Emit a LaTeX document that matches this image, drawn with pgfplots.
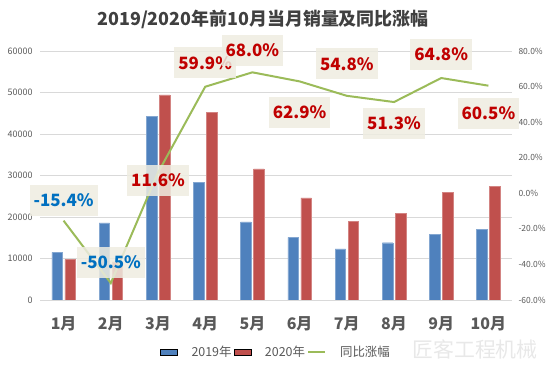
\documentclass[border=0pt]{standalone}
\usepackage{pgfplots}
\pgfplotsset{compat=1.18}
\usepackage{pgfplotstable}
\usepackage{fontspec}
\setmainfont{Noto Sans CJK SC}
\definecolor{c19}{HTML}{4F81BD}
\definecolor{c20}{HTML}{C0504D}
\definecolor{cl}{HTML}{9BBB59}
\definecolor{tx}{HTML}{595959}
\definecolor{ttl}{HTML}{404040}
\definecolor{gridc}{HTML}{D9D9D9}
\definecolor{lbl}{HTML}{EEECE1}
\definecolor{pos}{HTML}{C00000}
\definecolor{neg}{HTML}{0070C0}
\pgfplotstableread{
x a b r dy
0 11500 9800 -15.4 20
1 18600 9200 -50.5 21
2 44300 49400 11.6 -8
3 28300 45300 59.9 24
4 18800 31600 68.0 22
5 15100 24600 62.9 -31
6 12300 19000 54.8 32
7 13800 20900 51.3 -21
8 15800 26000 64.8 24
9 17100 27400 60.5 -28
}\data
\pgfplotsset{lblstyle/.style={draw=none, mark=none, forget plot,
  point meta=explicit symbolic,
  visualization depends on={\thisrow{dy} \as \dy},
  nodes near coords={\pgfplotspointmeta\%},
  every node near coord/.append style={anchor=center, yshift=\dy bp,
    font=\fontsize{17}{17}\selectfont\bfseries, text=#1,
    fill=lbl, fill opacity=0.85, text opacity=1,
    inner xsep=4bp, minimum height=31bp}}}
\begin{document}
\begin{tikzpicture}
\path[use as bounding box] (0,0) rectangle (554bp,375bp);
\node[font=\fontsize{18}{18}\selectfont\bfseries, text=ttl] at (263bp,356bp) {2019/2020年前10月当月销量及同比涨幅};
\node[font=\fontsize{21}{21}\selectfont, text=black!9] at (475bp,26bp) {匠客工程机械};
\begin{axis}[
  at={(40bp,75bp)}, anchor=south west,
  scale only axis, width=472bp, height=249bp,
  ybar=2.5bp, bar width=10.5bp,
  xmin=-0.5, xmax=9.5, ymin=0, ymax=60000,
  ytick={0,10000,...,60000},
  xtick={0,...,9},
  xticklabels={1月,2月,3月,4月,5月,6月,7月,8月,9月,10月},
  ymajorgrids, grid style={gridc, line width=0.8bp},
  axis line style={draw=none}, major tick length=0pt,
  scaled y ticks=false,
  /pgf/number format/.cd, 1000 sep={}, assume math mode=true, /pgfplots/.cd,
  yticklabel style={font=\fontsize{9}{9}\selectfont, text=tx, xshift=-4bp},
  xticklabel style={font=\fontsize{16}{16}\selectfont\bfseries, text=tx, yshift=-13bp},
]
\addplot[fill=c19, draw=c19!70!white, line width=0.4bp] table[x=x,y=a]{\data};
\addplot[fill=c20, draw=c20!70!white, line width=0.4bp] table[x=x,y=b]{\data};
\end{axis}
\begin{axis}[
  at={(40bp,75bp)}, anchor=south west,
  scale only axis, width=472bp, height=249bp,
  xmin=-0.5, xmax=9.5, ymin=-60, ymax=80,
  ytick={-60,-40,...,80},
  yticklabels={-60.0\%,-40.0\%,-20.0\%,0.0\%,20.0\%,40.0\%,60.0\%,80.0\%},
  axis x line=none, axis y line*=right,
  axis line style={draw=none}, major tick length=0pt,
  yticklabel style={font=\fontsize{8.5}{8.5}\selectfont, text=tx, xshift=3bp},
  clip=false,
  legend style={at={(0.5,-0.209)}, anchor=center, draw=none, fill=none,
    font=\fontsize{12.5}{12.5}\selectfont, text=tx, legend columns=3,
    /tikz/every odd column/.append style={column sep=12bp}},
]
\addlegendimage{area legend, fill=c19, draw=none}
\addlegendentry{2019年}
\addlegendimage{area legend, fill=c20, draw=none}
\addlegendentry{2020年}
\addplot[cl, line width=2bp, mark=none] table[x=x,y=r]{\data};
\addlegendentry{同比涨幅}
\addplot[lblstyle=neg, restrict x to domain=0:1] table[x=x,y=r,meta=r]{\data};
\addplot[lblstyle=pos, restrict x to domain=2:9] table[x=x,y=r,meta=r]{\data};
\end{axis}
\end{tikzpicture}
\end{document}
